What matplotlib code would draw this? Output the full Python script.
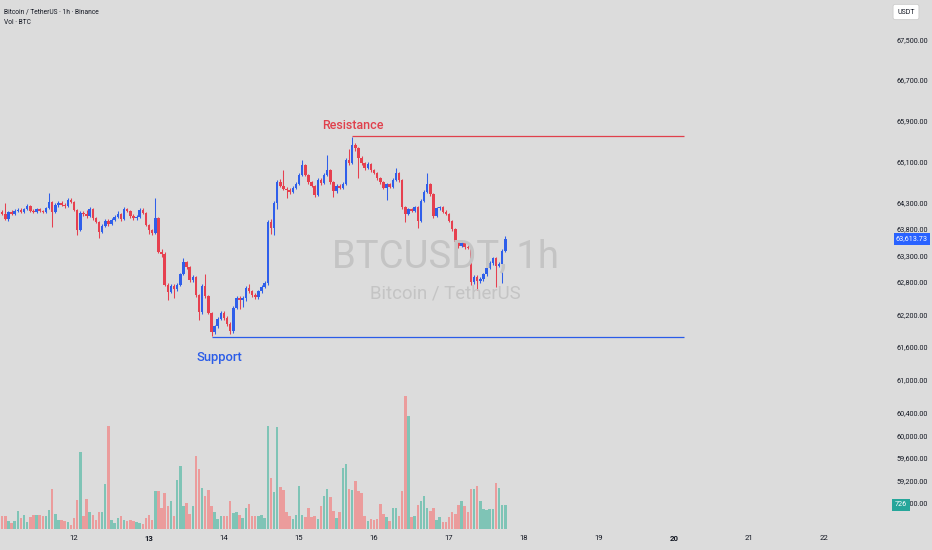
import numpy as np
import matplotlib
matplotlib.use('Agg')
import matplotlib.pyplot as plt
import matplotlib.transforms as mtransforms
from matplotlib.ticker import NullLocator, NullFormatter

plt.rcParams['font.family'] = ['Roboto', 'DejaVu Sans']

# hourly BTCUSDT candles, first one is 11 May 00:00
opens = [64090, 64130, 64090, 63990, 64130, 64090, 64150, 64170, 64130, 64180,
         64240, 64150, 64130, 64180, 64150, 64130, 64200, 64320, 64130, 64260,
         64300, 64260, 64240, 64360, 64320, 64170, 63780, 64110, 64080, 64050,
         64180, 64010, 63940, 63750, 63860, 63960, 63900, 63970, 64030, 64090,
         63990, 64180, 64150, 64050, 64010, 64030, 64170, 64110, 63880, 63780,
         63730, 64010, 63370, 63330, 62750, 62620, 62730, 62670, 62750, 62950,
         63180, 63080, 62840, 62900, 62560, 62240, 62730, 62540, 62230, 61870,
         61980, 62110, 62230, 62130, 62020, 61890, 62320, 62500, 62470, 62500,
         62690, 62630, 62560, 62520, 62630, 62710, 62780, 63940, 63820, 64300,
         64700, 64630, 64570, 64550, 64510, 64590, 64660, 64840, 65030, 64840,
         64700, 64630, 64450, 64740, 64680, 64840, 64930, 64700, 64530, 64630,
         64590, 64660, 65130, 65070, 65420, 65360, 65170, 65070, 64970, 65050,
         64930, 64880, 64780, 64700, 64590, 64660, 64610, 64740, 64880, 64740,
         64220, 64090, 64180, 64150, 64220, 63960, 64340, 64510, 64660, 64470,
         64050, 64200, 64220, 64130, 64090, 63960, 63800, 63560, 63480, 63540,
         63460, 63450, 62800, 62900, 62820, 62860, 62950, 63070, 63160, 63250,
         63100, 63140, 63390]
closes = [64130, 64090, 63990, 64130, 64090, 64150, 64170, 64130, 64180, 64240,
          64150, 64130, 64180, 64150, 64130, 64200, 64320, 64130, 64260, 64300,
          64260, 64240, 64360, 64320, 64170, 63780, 64110, 64080, 64050, 64180,
          64010, 63940, 63750, 63860, 63960, 63900, 63970, 64030, 64090, 63990,
          64180, 64150, 64050, 64010, 64030, 64170, 64110, 63880, 63780, 63730,
          64010, 63370, 63330, 62750, 62620, 62730, 62670, 62750, 62950, 63180,
          63080, 62840, 62900, 62560, 62240, 62730, 62540, 62230, 61870, 61980,
          62110, 62230, 62130, 62020, 61890, 62320, 62500, 62470, 62500, 62690,
          62630, 62560, 62520, 62630, 62710, 62780, 63940, 63820, 64300, 64700,
          64630, 64570, 64550, 64510, 64590, 64660, 64840, 65030, 64840, 64700,
          64630, 64450, 64740, 64680, 64840, 64930, 64700, 64530, 64630, 64590,
          64660, 65130, 65070, 65420, 65360, 65170, 65070, 64970, 65050, 64930,
          64880, 64780, 64700, 64590, 64660, 64610, 64740, 64880, 64740, 64220,
          64090, 64180, 64150, 64220, 63960, 64340, 64510, 64660, 64470, 64050,
          64200, 64220, 64130, 64090, 63960, 63800, 63560, 63480, 63540, 63460,
          63450, 62800, 62900, 62820, 62860, 62950, 63070, 63160, 63250, 63100,
          63140, 63390, 63613.73]
highs = [64180, 64160, 64300, 64150, 64170, 64180, 64200, 64200, 64210, 64270,
         64260, 64180, 64200, 64200, 64170, 64230, 64490, 64340, 64290, 64330,
         64340, 64290, 64390, 64400, 64340, 64190, 64140, 64140, 64160, 64220,
         64200, 64040, 63960, 63890, 63990, 64000, 64010, 64060, 64140, 64110,
         64230, 64210, 64170, 64080, 64060, 64200, 64200, 64130, 63900, 63810,
         64400, 64040, 63420, 63360, 62780, 62760, 62770, 62790, 62980, 63260,
         63200, 63110, 62940, 62920, 62580, 62760, 62950, 62560, 62250, 62010,
         62150, 62270, 62260, 62160, 62050, 62350, 62540, 62540, 62540, 62720,
         62760, 62660, 62600, 62660, 62740, 62830, 63980, 64000, 64330, 64740,
         64760, 64930, 64600, 64590, 64620, 64700, 64870, 65130, 65050, 64860,
         64730, 64650, 64770, 64780, 64870, 65220, 64960, 64720, 64660, 64660,
         64700, 65160, 65340, 65580, 65460, 65380, 65200, 65090, 65080, 65070,
         64960, 64900, 64800, 64720, 64690, 64690, 64770, 64980, 64900, 64760,
         64240, 64210, 64200, 64250, 64240, 64370, 64540, 64880, 64680, 64490,
         64230, 64250, 64250, 64160, 64110, 63980, 63820, 63590, 63570, 63570,
         63490, 63470, 62930, 62930, 62890, 62980, 63100, 63200, 63280, 63270,
         63180, 63420, 63660]
lows = [64060, 64060, 63970, 63960, 64070, 64070, 64120, 64110, 64110, 64160,
        64130, 64100, 64110, 64130, 64100, 64110, 64180, 63840, 64110, 64230,
        64240, 64200, 64220, 64290, 64150, 63690, 63760, 64050, 64020, 64030,
        63980, 63910, 63630, 63720, 63840, 63860, 63870, 63950, 64010, 63960,
        63970, 64120, 64020, 63980, 63980, 64010, 64080, 63850, 63700, 63690,
        63700, 63340, 63280, 62720, 62470, 62590, 62500, 62640, 62720, 62930,
        63040, 62810, 62800, 62530, 62100, 62200, 62510, 62200, 61800, 61830,
        61950, 62090, 62100, 61990, 61830, 61860, 62300, 62300, 62330, 62450,
        62600, 62530, 62490, 62490, 62600, 62690, 62740, 63700, 63690, 64180,
        64600, 64540, 64400, 64480, 64490, 64570, 64640, 64820, 64810, 64670,
        64600, 64420, 64430, 64650, 64660, 64810, 64670, 64420, 64500, 64560,
        64570, 64640, 65040, 65050, 65300, 64780, 65040, 64940, 64950, 64900,
        64850, 64750, 64670, 64560, 64360, 64580, 64590, 64720, 64710, 64190,
        63940, 64060, 64120, 64130, 63820, 63940, 64320, 64490, 64440, 64020,
        64030, 64170, 64100, 64060, 63930, 63770, 63530, 63440, 63460, 63430,
        63420, 62750, 62770, 62650, 62790, 62830, 62920, 63040, 63130, 62700,
        63080, 62780, 63370]
volumes = [705, 383, 403, 232, 181, 252, 534, 333, 434, 202,
           363, 434, 434, 434, 403, 383, 565, 1210, 464, 282,
           282, 232, 202, 131, 333, 887, 2329, 403, 918, 504,
           434, 282, 514, 514, 1361, 3126, 262, 181, 333, 383,
           282, 252, 282, 252, 212, 181, 161, 333, 434, 282,
           1160, 1139, 635, 1089, 686, 857, 403, 1492, 1916, 686,
           787, 464, 706, 2198, 1815, 1240, 1008, 1190, 686, 504,
           302, 403, 403, 383, 837, 484, 514, 434, 333, 635,
           766, 403, 403, 400, 434, 333, 3126, 1543, 1109, 3086,
           1271, 1170, 514, 383, 302, 434, 1291, 434, 363, 635,
           353, 403, 302, 706, 1008, 1220, 968, 534, 333, 514,
           1845, 1966, 1220, 1170, 1442, 1139, 1089, 403, 252, 302,
           282, 312, 766, 464, 353, 252, 635, 635, 383, 1139,
           4013, 3428, 363, 383, 736, 837, 1008, 635, 534, 635,
           282, 363, 202, 202, 363, 514, 454, 736, 837, 686,
           514, 1220, 1220, 1291, 857, 615, 565, 615, 615, 1392,
           1230, 736, 726]

day_labels = ['12', '13', '14', '15', '16', '17', '18', '19', '20', '21', '22']
week_start = ['13', '20']
price_ticks = [58800, 59200, 59600, 60000, 60400, 61000, 61600, 62200, 62800,
               63300, 63800, 64300, 65100, 65900, 66700, 67500]
resistance = 65590
support = 61790
resistance_from = 113
support_from = 68
lines_to = 219.2

bg = '#dcdcdc'
up_col = '#2f5fea'
down_col = '#e6404f'
vup_col = '#7fc4b6'
vdown_col = '#eb9c9c'
txt = '#131722'

o = np.array(opens, float)
c = np.array(closes, float)
h = np.array(highs, float)
l = np.array(lows, float)
v = np.array(volumes, float)
idx = np.arange(len(c))
up = c >= o

fig = plt.figure(figsize=(9.32, 5.5), dpi=100)
fig.patch.set_facecolor(bg)
pos = [0, 21 / 550, 858 / 932, 529 / 550]
axv = fig.add_axes(pos)
ax = fig.add_axes(pos, sharex=axv)
axv.set_facecolor(bg)
ax.patch.set_alpha(0)

# volume underneath
axv.bar(idx, v, width=0.8, color=np.where(up, vup_col, vdown_col), linewidth=0)
axv.set_ylim(0, 16000)
axv.set_yticks([])
for s in axv.spines.values():
    s.set_visible(False)

# candles
cols = np.where(up, up_col, down_col)
ax.vlines(idx, l, h, colors=cols, linewidth=0.75)
body = np.maximum(np.abs(c - o), 14)
ax.bar(idx, body, bottom=np.minimum(o, c), width=0.8, color=cols, linewidth=0)

ax.set_yscale('log')
ax.set_ylim(58345, 68309)
ax.set_xlim(0.32, 274.88)
ax.yaxis.set_minor_locator(NullLocator())
ax.yaxis.set_minor_formatter(NullFormatter())
ax.yaxis.tick_right()
ax.set_yticks(price_ticks)
ax.set_yticklabels(['{:,.2f}'.format(p) for p in price_ticks])
ax.tick_params(axis='y', length=0, pad=50.4, labelsize=5.2, labelcolor=txt)
for lbl in ax.get_yticklabels():
    lbl.set_horizontalalignment('right')

day_pos = [24 * (int(d) - 11) for d in day_labels]
ax.set_xticks(day_pos)
ax.set_xticklabels(day_labels)
ax.tick_params(axis='x', length=0, pad=4.5, labelsize=5.6, labelcolor=txt)
for lbl in ax.get_xticklabels():
    if lbl.get_text() in week_start:
        lbl.set_fontweight('bold')
axv.tick_params(axis='x', length=0, labelbottom=False)
for s in ax.spines.values():
    s.set_visible(False)

# watermark
fig.text(445 / 932, 1 - 267 / 550, 'BTCUSDT, 1h', ha='center', va='baseline',
         fontsize=27.5, color='#c4c4c4', zorder=0)
fig.text(445 / 932, 1 - 298 / 550, 'Bitcoin / TetherUS', ha='center', va='baseline',
         fontsize=13.4, color='#c4c4c4', zorder=0)

# support / resistance drawings
ax.hlines(resistance, resistance_from, lines_to, color='#e0404c', linewidth=0.9)
ax.hlines(support, support_from, lines_to, color='#2a5ce8', linewidth=0.9)
ax.text(113.1, 65792, 'Resistance', ha='center', va='center', fontsize=9,
        fontweight='medium', color='#e0404c')
ax.text(70.6, 61397, 'Support', ha='center', va='center', fontsize=9.4,
        fontweight='medium', color='#2a5ce8')

# header
fig.text(4 / 932, 1 - 13 / 550, 'Bitcoin / TetherUS · 1h · Binance', ha='left',
         va='baseline', fontsize=4.8, color=txt)
fig.text(4 / 932, 1 - 24 / 550, 'Vol · BTC', ha='left', va='baseline',
         fontsize=4.8, color=txt)

# right side badges
fig.text(906 / 932, 1 - 12 / 550, 'USDT', ha='center', va='center', fontsize=5,
         color=txt, bbox=dict(boxstyle='round,pad=0.6,rounding_size=0.3',
                              fc='white', ec='#c8c8c8', lw=0.5))
tr = mtransforms.blended_transform_factory(fig.transFigure, ax.transData)
fig.text(928 / 932, closes[-1], '{:,.2f}'.format(closes[-1]), transform=tr,
         ha='right', va='center', fontsize=5.2, color='white',
         bbox=dict(boxstyle='square,pad=0.3', fc='#2962ff', ec='none'))
trv = mtransforms.blended_transform_factory(fig.transFigure, axv.transData)
fig.text(901 / 932, volumes[-1], str(volumes[-1]), transform=trv,
         ha='center', va='center', fontsize=5.2, color='white',
         bbox=dict(boxstyle='square,pad=0.35', fc='#26a69a', ec='none'))

fig.savefig('out.png', dpi=100, facecolor=bg)
